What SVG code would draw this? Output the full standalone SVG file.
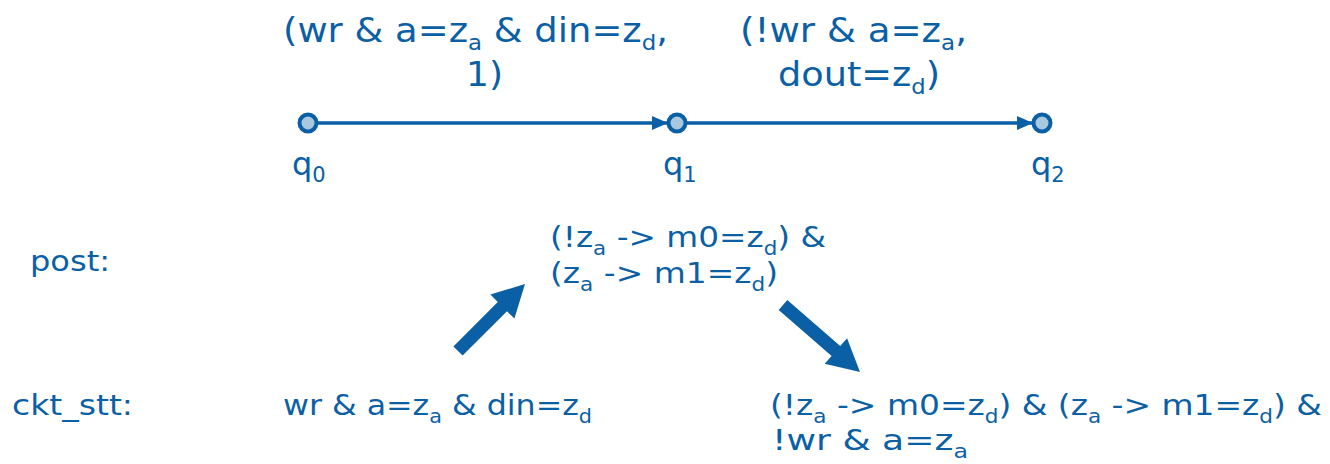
<svg xmlns="http://www.w3.org/2000/svg" width="1330" height="464" viewBox="0 0 1330 464">
<style>
text{font-family:"DejaVu Sans","Verdana",sans-serif;fill:#0B5FA5;}
.t{font-size:34px;}
.s{font-size:21px;}
.q{font-size:32px;}
.c{font-size:29px;}
.cs{font-size:19px;}
.node{fill:#A8C8E0;stroke:#0B5FA5;stroke-width:4;}
.edge{stroke:#0B5FA5;stroke-width:3.5;fill:none;}
.big{fill:#0B5FA5;}
</style>
<defs>
<marker id="ah" markerWidth="16" markerHeight="14" refX="15" refY="7" orient="auto" markerUnits="userSpaceOnUse" viewBox="0 0 16 14">
<path d="M0,0 L16,7 L0,14 Z" fill="#0B5FA5"/>
</marker>
</defs>
<g id="connectors">
<line class="edge" x1="317" y1="123" x2="667" y2="123" marker-end="url(#ah)"/>
<line class="edge" x1="687" y1="123" x2="1032" y2="123" marker-end="url(#ah)"/>
<path class="big" d="M453.4,346.4 L497.8,302 L490.4,294.6 L525,284 L514.4,318.6 L507,311.2 L462.6,355.6 Z"/>
<path class="big" d="M787.3,300.1 L840.2,346.1 L847.1,338.2 L860,372 L824.7,363.8 L831.6,355.9 L778.7,309.9 Z"/>
</g>
<g id="q0"><circle class="node" cx="308" cy="123" r="8.5"/><text class="q" x="292" y="175">q<tspan class="s" dy="7">0</tspan></text></g>
<g id="q1"><circle class="node" cx="677" cy="123" r="8.5"/><text class="q" x="663" y="175">q<tspan class="s" dy="7">1</tspan></text></g>
<g id="q2"><circle class="node" cx="1042" cy="123" r="8.5"/><text class="q" x="1031" y="175">q<tspan class="s" dy="7">2</tspan></text></g>
<g id="label1">
<text class="t" x="283" y="42" textLength="385" lengthAdjust="spacingAndGlyphs">(wr &amp; a=z<tspan class="s" dy="8">a</tspan><tspan dy="-8"> &amp; din=z</tspan><tspan class="s" dy="8">d</tspan><tspan dy="-8">,</tspan></text>
<text class="t" x="466" y="86" textLength="37" lengthAdjust="spacingAndGlyphs">1)</text>
</g>
<g id="label2">
<text class="t" x="740" y="42" textLength="227" lengthAdjust="spacingAndGlyphs">(!wr &amp; a=z<tspan class="s" dy="8">a</tspan><tspan dy="-8">,</tspan></text>
<text class="t" x="778" y="86" textLength="162" lengthAdjust="spacingAndGlyphs">dout=z<tspan class="s" dy="8">d</tspan><tspan dy="-8">)</tspan></text>
</g>
<g id="post-label"><text class="c" x="30" y="271" textLength="80" lengthAdjust="spacingAndGlyphs">post:</text></g>
<g id="post">
<text class="c" x="550" y="247" textLength="276" lengthAdjust="spacingAndGlyphs">(!z<tspan class="cs" dy="8">a</tspan><tspan dy="-8"> -&gt; m0=z</tspan><tspan class="cs" dy="8">d</tspan><tspan dy="-8">) &amp;</tspan></text>
<text class="c" x="550" y="283" textLength="228" lengthAdjust="spacingAndGlyphs">(z<tspan class="cs" dy="8">a</tspan><tspan dy="-8"> -&gt; m1=z</tspan><tspan class="cs" dy="8">d</tspan><tspan dy="-8">)</tspan></text>
</g>
<g id="ckt-label"><text class="c" x="12" y="415" textLength="121" lengthAdjust="spacingAndGlyphs">ckt_stt:</text></g>
<g id="ckt1"><text class="c" x="283" y="415" textLength="309" lengthAdjust="spacingAndGlyphs">wr &amp; a=z<tspan class="cs" dy="8">a</tspan><tspan dy="-8"> &amp; din=z</tspan><tspan class="cs" dy="8">d</tspan></text></g>
<g id="ckt2">
<text class="c" x="770" y="415" textLength="552" lengthAdjust="spacingAndGlyphs">(!z<tspan class="cs" dy="8">a</tspan><tspan dy="-8"> -&gt; m0=z</tspan><tspan class="cs" dy="8">d</tspan><tspan dy="-8">) &amp; (z</tspan><tspan class="cs" dy="8">a</tspan><tspan dy="-8"> -&gt; m1=z</tspan><tspan class="cs" dy="8">d</tspan><tspan dy="-8">) &amp;</tspan></text>
<text class="c" x="772" y="450" textLength="196" lengthAdjust="spacingAndGlyphs">!wr &amp; a=z<tspan class="cs" dy="8">a</tspan></text>
</g>
</svg>
